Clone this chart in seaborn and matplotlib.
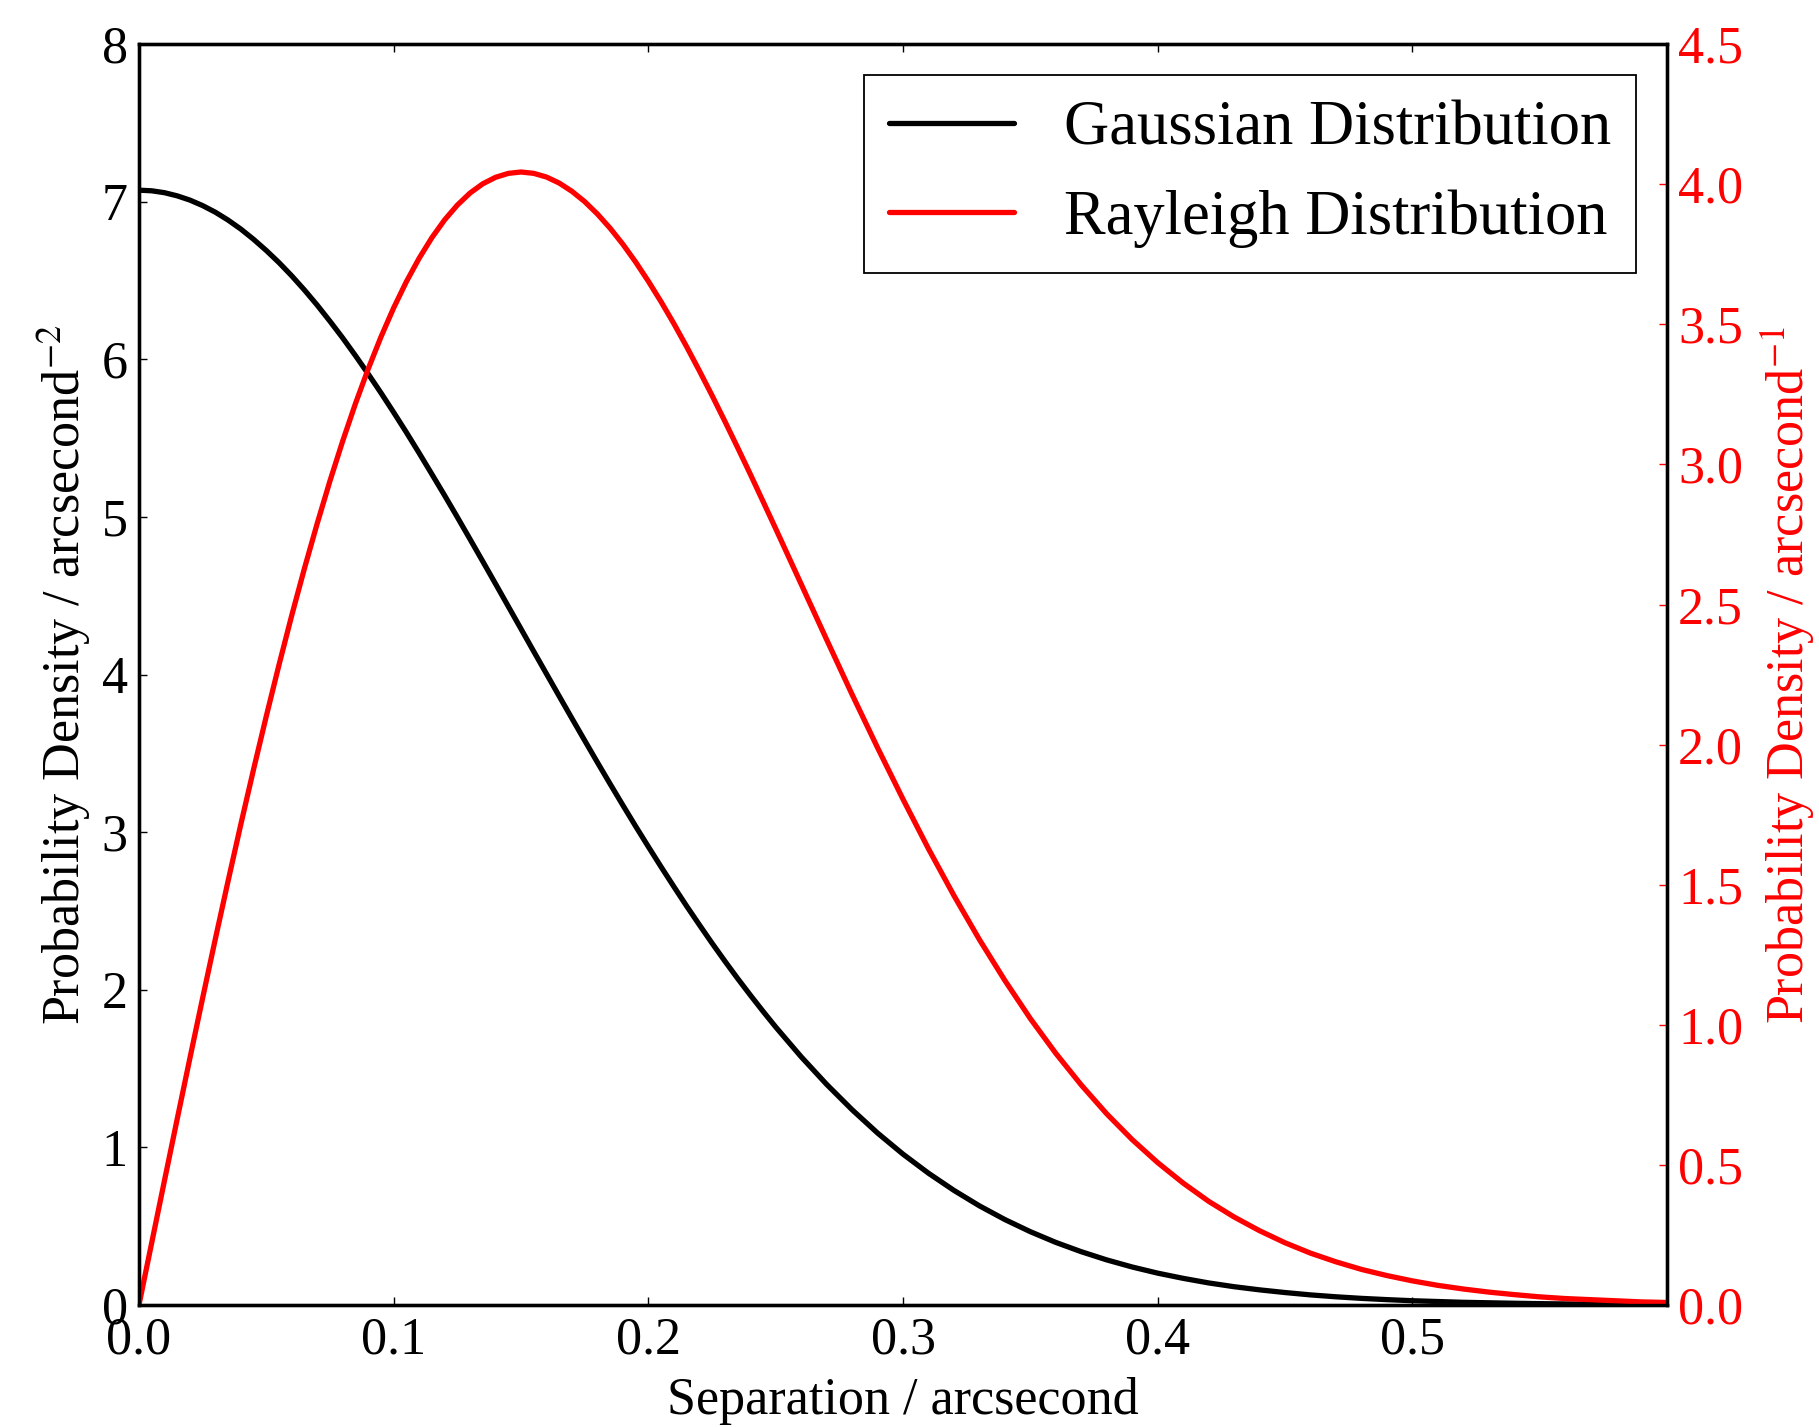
import numpy as np
import pandas as pd
import matplotlib
matplotlib.use('Agg')
import matplotlib.pyplot as plt
import seaborn as sns

sep = [0.000, 0.005, 0.010, 0.015, 0.020, 0.025, 0.030, 0.035, 0.040, 0.045,
       0.050, 0.055, 0.060, 0.065, 0.070, 0.075, 0.080, 0.085, 0.090, 0.095,
       0.100, 0.105, 0.110, 0.115, 0.120, 0.125, 0.130, 0.135, 0.140, 0.145,
       0.150, 0.155, 0.160, 0.165, 0.170, 0.175, 0.180, 0.185, 0.190, 0.195,
       0.200, 0.205, 0.210, 0.215, 0.220, 0.225, 0.230, 0.235, 0.240, 0.245,
       0.25, 0.26, 0.27, 0.28, 0.29,
       0.30, 0.31, 0.32, 0.33, 0.34, 0.35, 0.36, 0.37, 0.38, 0.39,
       0.40, 0.41, 0.42, 0.43, 0.44, 0.45, 0.46, 0.47, 0.48, 0.49,
       0.50, 0.51, 0.52, 0.53, 0.54, 0.55, 0.56, 0.57, 0.58, 0.59, 0.5999]

gauss = [7.074, 7.070, 7.058, 7.038, 7.011, 6.976, 6.934, 6.884, 6.827, 6.762,
         6.691, 6.614, 6.530, 6.440, 6.344, 6.242, 6.136, 6.024, 5.908, 5.788,
         5.664, 5.537, 5.406, 5.272, 5.137, 4.999, 4.859, 4.718, 4.576, 4.433,
         4.290, 4.147, 4.005, 3.863, 3.722, 3.582, 3.443, 3.306, 3.171, 3.038,
         2.908, 2.780, 2.655, 2.532, 2.413, 2.296, 2.183, 2.073, 1.967, 1.864,
         1.764, 1.575, 1.400, 1.239, 1.091,
         0.957, 0.836, 0.727, 0.629, 0.542, 0.465, 0.397, 0.338, 0.286, 0.241,
         0.202, 0.169, 0.140, 0.116, 0.096, 0.079, 0.064, 0.052, 0.042, 0.034,
         0.027, 0.022, 0.017, 0.014, 0.011, 0.0085, 0.0067, 0.0052, 0.0040, 0.0031, 0.0024]

rayleigh = [0.0, 0.2221, 0.4435, 0.6633, 0.881, 1.0958, 1.307, 1.5138, 1.716, 1.912,
            2.102, 2.2855, 2.462, 2.630, 2.790, 2.9417, 3.084, 3.2174, 3.341, 3.455,
            3.559, 3.6526, 3.736, 3.8096, 3.873, 3.9258, 3.969, 4.0019, 4.025, 4.039,
            4.044, 4.0391, 4.026, 4.0045, 3.975, 3.9382, 3.894, 3.8432, 3.786, 3.7228,
            3.654, 3.5808, 3.503, 3.4209, 3.335, 3.2465, 3.155, 3.0613, 2.966, 2.8687,
            2.771, 2.573, 2.375, 2.179, 1.989,
            1.805, 1.628, 1.461, 1.304, 1.158, 1.022, 0.898, 0.785, 0.682, 0.590,
            0.508, 0.435, 0.370, 0.314, 0.265, 0.222, 0.185, 0.154, 0.127, 0.105,
            0.086, 0.070, 0.057, 0.046, 0.037, 0.029, 0.023, 0.019, 0.015, 0.011, 0.009]

xticks = [0.0, 0.1, 0.2, 0.3, 0.4, 0.5]
yticks_left = [0, 1, 2, 3, 4, 5, 6, 7, 8]
yticks_right = [0.0, 0.5, 1.0, 1.5, 2.0, 2.5, 3.0, 3.5, 4.0, 4.5]

df = pd.DataFrame({'sep': sep, 'gauss': gauss, 'rayleigh': rayleigh})

sns.set_style('ticks')
plt.rcParams['font.family'] = ['Liberation Serif', 'DejaVu Serif']
plt.rcParams['mathtext.fontset'] = 'stix'
plt.rcParams['text.color'] = 'black'
plt.rcParams['axes.labelcolor'] = 'black'
plt.rcParams['xtick.color'] = 'black'
plt.rcParams['ytick.color'] = 'black'
plt.rcParams['axes.linewidth'] = 2.4

fs = 37.5
lw = 3.8
fig, ax = plt.subplots(figsize=(18.19, 14.27), dpi=100)
fig.subplots_adjust(left=0.0764, right=0.9165, top=0.969, bottom=0.0855)

sns.lineplot(data=df, x='sep', y='gauss', ax=ax, color='black', linewidth=lw,
             label='Gaussian Distribution', legend=False)
ax2 = ax.twinx()
sns.lineplot(data=df, x='sep', y='rayleigh', ax=ax2, color='red', linewidth=lw,
             label='Rayleigh Distribution', legend=False)

ax.set_xlim(0, 0.6)
ax.set_ylim(0, 8)
ax2.set_ylim(0, 4.5)
ax.set_xticks(xticks)
ax.set_xticklabels(['%.1f' % t for t in xticks])
ax.set_yticks(yticks_left)
ax2.set_yticks(yticks_right)
ax2.set_yticklabels(['%.1f' % t for t in yticks_right])

ax.xaxis.set_ticks_position('both')
ax.tick_params(axis='both', which='major', labelsize=fs, length=6, width=1,
               direction='in', pad=8, colors='black')
ax.tick_params(axis='x', top=True)
ax2.tick_params(axis='y', labelsize=fs, length=6, width=1, direction='in',
                pad=8, colors='red')

ax.set_xlabel('Separation / arcsecond', fontsize=fs, labelpad=9, color='black')
ax.set_ylabel('Probability Density / arcsecond$^{-2}$', fontsize=fs, labelpad=6,
              color='black')
ax2.set_ylabel('Probability Density / arcsecond$^{-1}$', fontsize=fs, color='red',
               labelpad=11)

for sp in ax2.spines.values():
    sp.set_color('black')
    sp.set_linewidth(2.4)

h1, l1 = ax.get_legend_handles_labels()
h2, l2 = ax2.get_legend_handles_labels()
leg = ax2.legend(h1 + h2, l1 + l2, loc='upper right', fontsize=45,
                 fancybox=False, framealpha=1, edgecolor='black')
leg.get_frame().set_linewidth(1.3)
for t in leg.get_texts():
    t.set_color('black')

fig.savefig('out.png', dpi=100)
